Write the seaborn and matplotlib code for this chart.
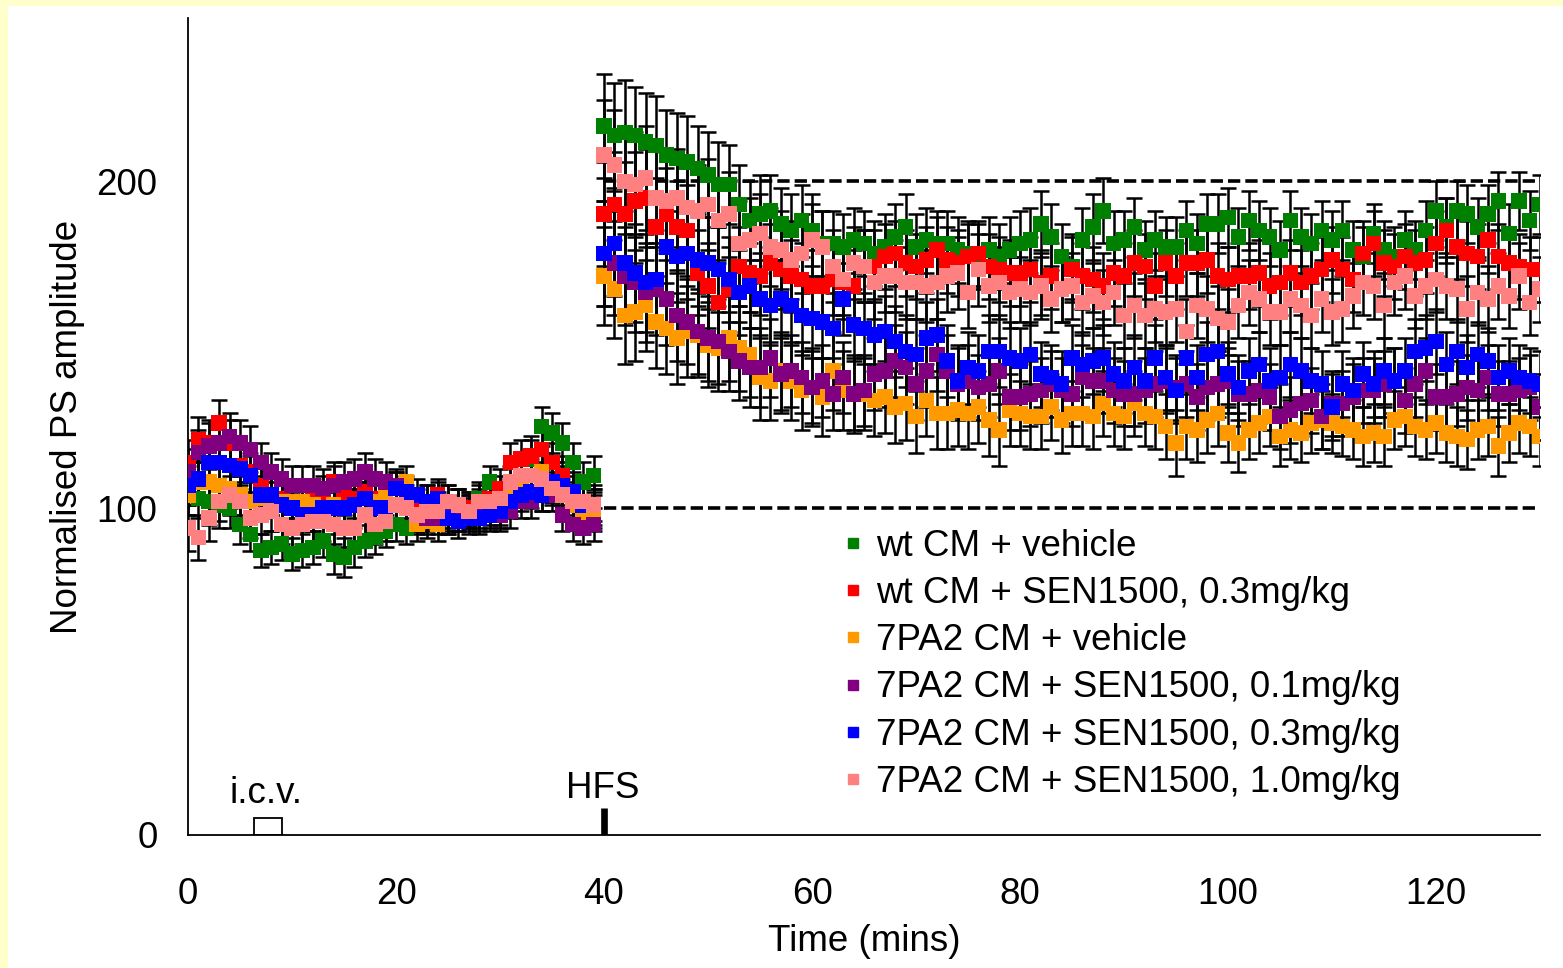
import numpy as np
import pandas as pd
import matplotlib
matplotlib.use("Agg")
import matplotlib.pyplot as plt
from matplotlib.lines import Line2D
from matplotlib.patches import Rectangle
import seaborn as sns

# ---- data: normalised population-spike amplitude, one sample per minute (0..130 min)
groups = [
    "wt CM + vehicle",
    "wt CM + SEN1500, 0.3mg/kg",
    "7PA2 CM + vehicle",
    "7PA2 CM + SEN1500, 0.1mg/kg",
    "7PA2 CM + SEN1500, 0.3mg/kg",
    "7PA2 CM + SEN1500, 1.0mg/kg",
]
colors = ["#008000", "#FF0000", "#FF9900", "#800080", "#0000FF", "#FF8080"]

wt_vehicle = [
    104, 103, 102, 101, 100, 95, 92, 87, 88, 89,
    86, 87, 88, 90, 86, 85, 88, 90, 91, 93,
    95, 94, 97, 98, 100, 99, 101, 100, 103, 108,
    105, 104, 110, 115, 125, 123, 120, 114, 108, 110,
    217, 214, 215, 214, 212, 211, 208, 207, 206, 204,
    202, 199, 199, 193, 188, 190, 191, 187, 185, 188,
    185, 181, 181, 180, 182, 181, 178, 180, 183, 186,
    180, 182, 181, 181, 179, 178, 177, 179, 177, 179,
    181, 182, 187, 183, 177, 174, 182, 186, 191, 181,
    182, 186, 179, 182, 180, 180, 185, 181, 187, 187,
    189, 183, 188, 185, 183, 179, 188, 183, 181, 185,
    182, 185, 179, 177, 184, 179, 177, 182, 179, 185,
    191, 186, 191, 190, 186, 190, 194, 184, 194, 188,
    193,
]
wt_sen03 = [
    114, 121, 120, 126, 120, 113, 111, 107, 104, 103,
    102, 102, 103, 104, 108, 104, 103, 105, 103, 102,
    101, 102, 101, 102, 104, 102, 101, 100, 101, 103,
    106, 114, 115, 116, 118, 114, 110, 104, 101, 100,
    190, 193, 190, 194, 195, 186, 190, 186, 185, 172,
    168, 163, 167, 174, 172, 171, 175, 173, 171, 170,
    168, 168, 170, 169, 168, 174, 174, 177, 178, 175,
    174, 176, 179, 176, 175, 177, 178, 174, 173, 172,
    172, 173, 169, 171, 167, 173, 171, 170, 168, 172,
    171, 175, 174, 168, 175, 171, 175, 175, 176, 171,
    170, 171, 171, 172, 168, 169, 172, 169, 171, 173,
    176, 173, 170, 178, 181, 175, 174, 177, 175, 176,
    181, 185, 180, 178, 177, 182, 177, 175, 174, 173,
    173,
]
tg_vehicle = [
    104, 108, 108, 107, 106, 104, 102, 103, 103, 102,
    102, 102, 101, 100, 101, 100, 101, 103, 102, 104,
    106, 108, 95, 96, 95, 97, 98, 98, 99, 99,
    100, 104, 108, 110, 111, 108, 105, 101, 98, 99,
    171, 167, 159, 160, 162, 157, 155, 152, 154, 153,
    150, 149, 152, 149, 147, 140, 139, 142, 139, 136,
    137, 134, 142, 136, 135, 135, 133, 134, 131, 132,
    128, 133, 129, 129, 130, 129, 131, 127, 124, 130,
    129, 128, 128, 131, 127, 129, 129, 128, 132, 129,
    128, 132, 129, 128, 125, 120, 125, 124, 127, 129,
    123, 120, 124, 126, 128, 122, 124, 123, 126, 127,
    126, 125, 124, 122, 123, 122, 127, 128, 125, 124,
    126, 123, 122, 121, 124, 125, 119, 123, 126, 125,
    122,
]
tg_sen01 = [
    111, 117, 119, 120, 122, 120, 118, 114, 111, 109,
    107, 107, 107, 106, 107, 108, 109, 111, 109, 108,
    107, 104, 98, 97, 97, 98, 98, 99, 98, 100,
    98, 99, 102, 102, 104, 104, 98, 95, 94, 95,
    178, 175, 171, 169, 166, 167, 164, 159, 157, 154,
    152, 151, 148, 145, 143, 143, 146, 141, 142, 140,
    137, 139, 135, 140, 135, 136, 141, 142, 145, 143,
    138, 142, 147, 142, 138, 139, 137, 138, 142, 134,
    134, 135, 136, 138, 136, 135, 140, 139, 139, 136,
    135, 135, 136, 138, 139, 137, 138, 134, 137, 138,
    139, 135, 135, 136, 134, 128, 130, 132, 133, 128,
    132, 132, 134, 136, 136, 138, 139, 133, 138, 142,
    134, 134, 135, 137, 136, 140, 135, 135, 136, 137,
    131,
]
tg_sen03 = [
    107, 109, 114, 114, 113, 112, 110, 104, 104, 101,
    100, 98, 98, 100, 100, 100, 101, 103, 100, 100,
    106, 105, 104, 102, 103, 97, 96, 97, 97, 98,
    99, 102, 104, 105, 104, 108, 107, 105, 101, 101,
    178, 181, 175, 172, 169, 170, 180, 177, 178, 176,
    175, 173, 170, 166, 168, 164, 162, 164, 162, 159,
    158, 157, 155, 164, 156, 155, 153, 154, 151, 148,
    147, 152, 153, 145, 139, 143, 142, 148, 148, 146,
    145, 147, 141, 140, 138, 146, 144, 145, 146, 141,
    139, 143, 139, 146, 140, 136, 146, 140, 147, 148,
    141, 137, 142, 144, 139, 140, 144, 142, 139, 138,
    131, 138, 136, 141, 138, 142, 139, 142, 148, 149,
    151, 144, 148, 143, 147, 145, 140, 142, 140, 139,
    138,
]
tg_sen10 = [
    94, 91, 97, 102, 104, 102, 97, 98, 99, 95,
    94, 95, 96, 96, 95, 94, 94, 98, 95, 96,
    101, 100, 98, 99, 99, 102, 101, 99, 102, 102,
    103, 108, 110, 110, 109, 106, 104, 102, 102, 101,
    208, 205, 200, 199, 201, 195, 194, 195, 192, 191,
    193, 188, 190, 181, 182, 184, 180, 179, 176, 178,
    182, 180, 174, 170, 175, 174, 169, 171, 171, 169,
    169, 168, 169, 171, 172, 166, 173, 168, 169, 166,
    167, 166, 168, 164, 167, 168, 163, 165, 163, 166,
    159, 162, 159, 161, 160, 161, 154, 162, 161, 158,
    157, 162, 166, 164, 160, 160, 164, 162, 159, 164,
    160, 161, 165, 169, 168, 162, 169, 171, 165, 168,
    170, 168, 167, 161, 166, 164, 168, 165, 171, 163,
    167,
]

# standard errors of the mean for each group
wt_vehicle_sem = [
    6, 6, 7, 7, 6, 6, 5, 5, 5, 5, 5, 5, 5, 5, 6, 6, 6, 5, 5, 5,
    5, 5, 5, 5, 5, 5, 5, 5, 5, 5, 5, 6, 6, 6, 6, 6, 6, 6, 6, 6,
    16, 16, 16, 15, 15, 15, 14, 14, 14, 13, 13, 13, 12, 12, 12, 12, 11, 11, 11, 11,
    11, 10, 10, 10, 10, 10, 10, 10, 10, 10, 10, 10, 10, 10, 10, 10, 10, 10, 10, 10,
    10, 10, 10, 10, 10, 10, 10, 10, 10, 10, 9, 9, 9, 9, 9, 9, 9, 9, 9, 9,
    9, 9, 9, 9, 9, 9, 9, 9, 9, 9, 9, 9, 9, 9, 9, 9, 9, 9, 9, 9,
    9, 9, 9, 9, 9, 9, 9, 9, 9, 9, 9,
]
wt_sen03_sem = [
    7, 7, 7, 7, 7, 6, 6, 6, 6, 6, 6, 6, 6, 6, 6, 6, 6, 6, 6, 6,
    5, 5, 5, 5, 5, 5, 5, 5, 5, 5, 6, 6, 6, 6, 6, 6, 6, 6, 6, 6,
    16, 16, 16, 15, 15, 15, 14, 14, 14, 13, 13, 13, 13, 12, 12, 12, 12, 12, 11, 11,
    11, 11, 11, 11, 11, 11, 11, 10, 10, 10, 10, 10, 10, 10, 10, 10, 10, 10, 10, 10,
    10, 10, 10, 10, 10, 10, 10, 10, 10, 10, 10, 10, 10, 10, 10, 10, 10, 10, 10, 10,
    10, 10, 10, 10, 10, 10, 10, 10, 10, 10, 10, 10, 10, 10, 10, 10, 10, 10, 10, 10,
    10, 10, 10, 10, 10, 10, 10, 10, 10, 10, 10,
]
tg_vehicle_sem = [
    6, 6, 6, 6, 6, 6, 6, 6, 5, 5, 5, 5, 5, 5, 5, 5, 5, 5, 5, 5,
    5, 5, 5, 5, 5, 5, 5, 5, 5, 5, 5, 5, 6, 6, 6, 6, 6, 6, 6, 6,
    15, 15, 15, 15, 14, 14, 14, 14, 14, 13, 13, 13, 13, 13, 13, 13, 12, 12, 12, 12,
    12, 12, 12, 12, 12, 11, 11, 11, 11, 11, 11, 11, 11, 11, 11, 11, 11, 11, 11, 11,
    10, 10, 10, 10, 10, 10, 10, 10, 10, 10, 10, 10, 10, 10, 10, 10, 10, 10, 10, 10,
    9, 9, 9, 9, 9, 9, 9, 9, 9, 9, 9, 9, 9, 9, 9, 9, 9, 9, 9, 9,
    9, 9, 9, 9, 9, 9, 9, 9, 9, 9, 9,
]
tg_sen01_sem = [
    7, 7, 7, 7, 7, 7, 7, 6, 6, 6, 6, 6, 6, 6, 6, 6, 6, 6, 6, 6,
    5, 5, 5, 5, 5, 5, 5, 5, 5, 5, 5, 5, 5, 5, 5, 5, 5, 5, 5, 5,
    16, 16, 15, 15, 15, 14, 14, 14, 13, 13, 13, 13, 12, 12, 12, 12, 12, 12, 11, 11,
    11, 11, 11, 11, 11, 11, 11, 11, 11, 11, 11, 11, 11, 11, 11, 11, 10, 10, 10, 10,
    10, 10, 10, 10, 10, 10, 10, 10, 10, 10, 10, 10, 10, 10, 10, 10, 10, 10, 10, 10,
    10, 10, 10, 10, 10, 10, 10, 10, 10, 10, 10, 10, 10, 10, 10, 10, 10, 10, 10, 10,
    10, 10, 10, 10, 10, 10, 10, 10, 10, 10, 10,
]
tg_sen03_sem = [
    6, 6, 6, 6, 6, 6, 6, 6, 6, 6, 5, 5, 5, 5, 5, 5, 5, 5, 5, 5,
    5, 5, 5, 5, 5, 5, 5, 5, 5, 5, 5, 5, 5, 5, 5, 6, 6, 6, 6, 6,
    16, 16, 16, 15, 15, 15, 15, 14, 14, 14, 14, 13, 13, 13, 13, 12, 12, 12, 12, 12,
    12, 11, 11, 11, 11, 11, 11, 11, 11, 11, 11, 11, 11, 11, 11, 11, 11, 11, 11, 11,
    10, 10, 10, 10, 10, 10, 10, 10, 10, 10, 10, 10, 10, 10, 10, 10, 10, 10, 10, 10,
    10, 10, 10, 10, 10, 10, 10, 10, 10, 10, 10, 10, 10, 10, 10, 10, 10, 10, 10, 10,
    10, 10, 10, 10, 10, 10, 10, 10, 10, 10, 10,
]
tg_sen10_sem = [
    7, 7, 7, 6, 6, 6, 6, 6, 6, 6, 6, 6, 6, 6, 6, 6, 6, 6, 6, 6,
    5, 5, 5, 5, 5, 5, 5, 5, 5, 5, 5, 5, 5, 5, 5, 5, 5, 5, 5, 5,
    17, 17, 16, 16, 16, 15, 15, 15, 14, 14, 14, 13, 13, 13, 13, 12, 12, 12, 12, 12,
    11, 11, 11, 11, 11, 11, 11, 11, 11, 11, 11, 11, 11, 11, 11, 11, 11, 11, 11, 11,
    10, 10, 10, 10, 10, 10, 10, 10, 10, 10, 10, 10, 10, 10, 10, 10, 10, 10, 10, 10,
    10, 10, 10, 10, 10, 10, 10, 10, 10, 10, 10, 10, 10, 10, 10, 10, 10, 10, 10, 10,
    10, 10, 10, 10, 10, 10, 10, 10, 10, 10, 10,
]

series = [wt_vehicle, wt_sen03, tg_vehicle, tg_sen01, tg_sen03, tg_sen10]
sems = [wt_vehicle_sem, wt_sen03_sem, tg_vehicle_sem, tg_sen01_sem, tg_sen03_sem, tg_sen10_sem]

minutes = np.arange(len(wt_vehicle))

frames = []
for name, vals, err in zip(groups, series, sems):
    frames.append(pd.DataFrame({"time": minutes, "value": vals, "sem": err, "group": name}))
df = pd.concat(frames, ignore_index=True)

# ---- figure
sns.set_theme(style="white")
plt.rcParams["font.family"] = ["Liberation Sans", "DejaVu Sans"]
plt.rcParams["text.color"] = "black"
plt.rcParams["axes.labelcolor"] = "black"
plt.rcParams["xtick.color"] = "black"
plt.rcParams["ytick.color"] = "black"

FS = 26.5
W, H = 1563, 968
fig = plt.figure(figsize=(W / 100, H / 100), dpi=100, facecolor="#FFFFCC")
fig.add_artist(Rectangle((8 / W, 0), 1, 1 - 6 / H, transform=fig.transFigure,
                         facecolor="white", edgecolor="none", zorder=-10))
ax = fig.add_axes([188 / W, 1 - 835 / H, (1540 - 188) / W, (835 - 18) / H])
ax.set_facecolor("white")

# error bars under the markers
for name in groups:
    d = df[df["group"] == name]
    ax.errorbar(d["time"], d["value"], yerr=d["sem"], fmt="none", ecolor="black",
                elinewidth=1.8, capsize=5.5, capthick=1.8, zorder=1)

# reference levels after tetanus
for lvl in (100, 200):
    ax.plot([40, 130], [lvl, lvl], color="black", lw=2.6, dashes=(3.4, 1.4), zorder=2)

sns.scatterplot(data=df, x="time", y="value", hue="group", hue_order=groups,
                palette=colors, marker="s", s=125, linewidth=0, legend=False,
                ax=ax, zorder=3)

# i.c.v. injection and HFS markers
ax.add_patch(Rectangle((6.3, 0), 2.7, 5.2, fill=False, edgecolor="black", lw=1.3, zorder=4))
ax.text(7.5, 9.8, "i.c.v.", ha="center", va="baseline", fontsize=FS)
ax.plot([40, 40], [0, 8.3], color="black", lw=4.8, solid_capstyle="butt", zorder=4)
ax.text(39.9, 11.3, "HFS", ha="center", va="baseline", fontsize=FS)

ax.set_xlim(0, 130)
ax.set_ylim(0, 250)
ax.set_xticks([0, 20, 40, 60, 80, 100, 120])
ax.set_yticks([0, 100, 200])
ax.tick_params(axis="x", direction="out", length=9, width=1.2, labelsize=FS, pad=21)
ax.tick_params(axis="y", direction="out", length=8, width=1.2, labelsize=FS, pad=14)
for s in ("top", "right"):
    ax.spines[s].set_visible(False)
for s in ("left", "bottom"):
    ax.spines[s].set_color("black")
    ax.spines[s].set_linewidth(1.3)

ax.set_xlabel("Time (mins)", fontsize=FS, labelpad=9)
ax.set_ylabel("Normalised PS amplitude", fontsize=FS, labelpad=8)

handles = [Line2D([], [], marker="s", color=c, linestyle="none", markersize=7) for c in colors]
ax.legend(handles, groups, loc="upper left", bbox_to_anchor=(843 / W, 1 - 529 / H),
          bbox_transform=fig.transFigure, frameon=False, fontsize=FS, borderpad=0,
          handlelength=0.55, handletextpad=0.36, labelspacing=0.33, borderaxespad=0)

fig.savefig("out.png", dpi=100, facecolor=fig.get_facecolor())
